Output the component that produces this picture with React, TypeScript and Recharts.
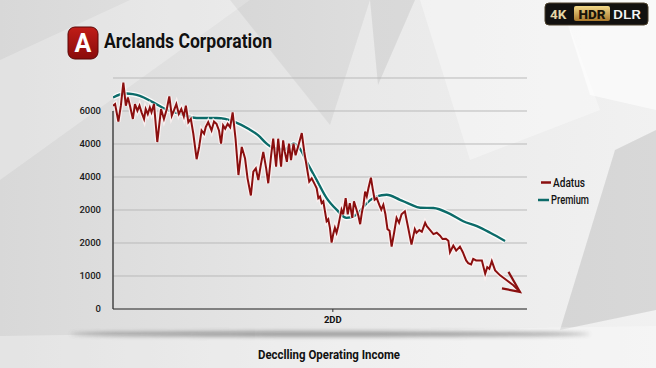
import React from "react";
import {
  LineChart,
  Line,
  XAxis,
  YAxis,
  CartesianGrid,
  ReferenceLine,
} from "recharts";

// [t, value], t runs 0..100 along the x axis
const adatusPoints = [
  [0, 6160], [0.5, 6210], [1.3, 5680], [1.9, 6160], [2.5, 6860], [3.1, 6160],
  [3.6, 6410], [4.1, 6160], [4.8, 5760], [5.3, 6210], [5.9, 6010], [6.4, 6160],
  [6.9, 5960], [7.5, 5760], [7.9, 6060], [8.4, 5910], [8.9, 6110], [9.3, 5960],
  [9.9, 6210], [10.7, 5060], [11.6, 6060], [12.3, 5760], [13.0, 6060], [13.6, 6440],
  [14.2, 5860], [14.7, 6010], [15.3, 6210], [15.9, 5910], [16.5, 6060], [17.1, 5840],
  [17.6, 6160], [18.2, 5660], [18.8, 5760], [19.4, 5310], [20.2, 4540], [20.8, 4910],
  [21.4, 5410], [22.0, 5310], [22.4, 5510], [23.0, 5660], [23.8, 5410], [24.4, 5680],
  [25.0, 5610], [25.6, 5410], [26.1, 5010], [26.6, 5560], [27.1, 5460], [27.7, 5610],
  [28.3, 5510], [28.9, 5960], [29.6, 5160], [30.3, 4060], [31.1, 4910], [31.9, 4560],
  [32.5, 3960], [33.3, 3440], [33.9, 4160], [34.5, 4260], [35.1, 3910], [35.7, 4360],
  [36.3, 4760], [37.0, 4260], [37.5, 3810], [38.2, 4660], [38.7, 5160], [39.4, 4310],
  [39.9, 5160], [40.6, 4310], [41.1, 5110], [41.5, 4760], [42.0, 4460], [42.5, 5010],
  [43.0, 4510], [43.6, 5010], [44.1, 4660], [44.8, 4960], [45.6, 5330], [46.2, 4760],
  [46.8, 4310], [47.4, 3860], [48.0, 3960], [48.8, 3760], [49.2, 3660], [49.6, 3360],
  [50.0, 3410], [50.4, 3210], [50.8, 3260], [51.2, 2960], [51.6, 2660], [52.0, 2720],
  [52.4, 2460], [52.8, 2010], [53.2, 2270], [53.6, 2460], [54.0, 2310], [54.4, 2510],
  [54.8, 2760], [55.2, 3010], [55.6, 2870], [56.2, 3360], [56.7, 2870], [57.2, 3210],
  [57.8, 2760], [58.2, 3260], [58.7, 3060], [59.3, 2810], [59.7, 2570], [60.1, 2910],
  [60.5, 3160], [60.9, 3560], [61.3, 3410], [61.7, 3660], [62.3, 3980], [62.7, 3660],
  [63.2, 3310], [63.7, 3360], [64.3, 3160], [64.8, 3010], [65.3, 3160], [65.8, 2870],
  [66.3, 2420], [66.8, 2370], [67.3, 1890], [67.9, 2310], [68.5, 2760], [69.1, 2610],
  [69.7, 2870], [70.5, 2960], [71.3, 2460], [72.1, 1950], [72.9, 2420], [73.3, 2310],
  [74.0, 2390], [74.6, 2340], [75.4, 2610], [75.8, 2510], [76.6, 2390], [77.4, 2270],
  [78.2, 2310], [79.0, 2220], [79.6, 2120], [80.4, 2130], [81.0, 2070], [81.4, 1720],
  [82.2, 1920], [82.9, 1770], [83.8, 1890], [84.5, 1720], [85.3, 1470], [85.8, 1390],
  [86.5, 1350], [87.0, 1520], [87.7, 1470], [88.5, 1470], [89.1, 1470], [89.9, 1070],
  [90.4, 1270], [90.9, 1220], [91.5, 1450], [92.3, 1170], [93.5, 1020], [95.1, 870],
  [96.7, 720], [98.3, 520],
];

const premiumPoints = [
  [0, 6410], [1.7, 6500], [3.3, 6530], [4.8, 6510], [6.5, 6460], [9.7, 6260],
  [13.0, 6040], [16.2, 5910], [20.2, 5790], [22.2, 5790], [25.0, 5790], [27.1, 5760],
  [29.5, 5660], [32.7, 5460], [35.1, 5260], [37.1, 5010], [38.7, 4880], [41.5, 4840],
  [43.6, 5010], [45.2, 4850], [46.8, 4460], [49.2, 3910], [51.6, 3360], [54.0, 3010],
  [56.4, 2760], [58.9, 2870], [61.3, 3210], [63.7, 3410], [66.1, 3460], [69.3, 3310],
  [71.7, 3180], [74.2, 3070], [77.4, 3060], [81.4, 2880], [84.6, 2660], [87.9, 2510],
  [91.1, 2310], [94.7, 2060],
];

const yTicks = [0, 1000, 2000, 3000, 4000, 5000, 6000];
const yTickLabels = ["0", "1000", "2000", "2000", "4000", "4000", "6000"];
const xTicks = [53.1];
const xTickLabels = ["2DD"];

const seriesNames = ["Adatus", "Premium"];
const RED = "#8a0f0f";
const TEAL = "#0c6b69";

const adatus = adatusPoints.map(([t, v]) => ({ t, v }));
const premium = premiumPoints.map(([t, v]) => ({ t, v }));

const ArrowDot = (props: any) => {
  const { cx, cy, index } = props;
  if (index !== adatus.length - 1) return <g key={`d-${index}`} />;
  return (
    <path
      key={`d-${index}`}
      d={`M${cx - 18},${cy - 3.5} L${cx},${cy} L${cx - 11.5},${cy - 20}`}
      fill="none"
      stroke={RED}
      strokeWidth={2.2}
      strokeLinejoin="miter"
    />
  );
};

const Background = () => (
  <svg width={656} height={368} style={{ position: "absolute", left: 0, top: 0 }}>
    <defs>
      <linearGradient id="bg" x1="0" y1="0" x2="1" y2="0">
        <stop offset="0" stopColor="#d8d8d8" />
        <stop offset="0.55" stopColor="#e9e9e9" />
        <stop offset="1" stopColor="#f1f1f1" />
      </linearGradient>
      <filter id="blur" x="-20%" y="-300%" width="140%" height="700%">
        <feGaussianBlur stdDeviation="2" />
      </filter>
    </defs>
    <rect width={656} height={368} fill="url(#bg)" />
    <polygon points="0,60 130,0 250,0 0,180" fill="#fff" opacity={0.25} />
    <polygon points="230,0 370,0 330,125" fill="#000" opacity={0.05} />
    <polygon points="370,0 415,0 378,85" fill="#000" opacity={0.07} />
    <polygon points="420,0 560,0 600,110 470,160" fill="#fff" opacity={0.35} />
    <polygon points="560,0 656,0 656,110 590,95" fill="#fff" opacity={0.6} />
    <polygon points="615,150 656,130 656,310 560,330" fill="#000" opacity={0.1} />
    <polygon points="0,336 656,326 656,368 0,368" fill="#fff" opacity={0.3} />
    <ellipse cx={330} cy={334} rx={260} ry={2.5} fill="#555" opacity={0.6} filter="url(#blur)" />
  </svg>
);

const Overlay = () => (
  <svg width={656} height={368} style={{ position: "absolute", left: 0, top: 0 }}>
    <defs>
      <linearGradient id="logo" x1="0" y1="0" x2="0" y2="1">
        <stop offset="0" stopColor="#c01d18" />
        <stop offset="1" stopColor="#8a0b0b" />
      </linearGradient>
      <linearGradient id="gold" x1="0" y1="0" x2="0" y2="1">
        <stop offset="0" stopColor="#f3d98a" />
        <stop offset="1" stopColor="#a9782b" />
      </linearGradient>
    </defs>
    {/* title */}
    <rect x={68} y={27} width={30} height={32} rx={7} fill="url(#logo)" stroke="#5a0606" strokeWidth={1} />
    <text x={83} y={52} textAnchor="middle" fill="#fff" fontFamily="Roboto, sans-serif" fontWeight={700} fontSize={25}>
      A
    </text>
    <text
      x={104}
      y={48}
      textLength={168}
      lengthAdjust="spacingAndGlyphs"
      fill="#111"
      fontFamily="Roboto, sans-serif"
      fontWeight={700}
      fontSize={20}
      stroke="#fff"
      strokeWidth={0.4}
      paintOrder="stroke"
    >
      Arclands Corporation
    </text>
    {/* badge */}
    <rect x={545} y={3} width={103} height={22} rx={4} fill="#121110" stroke="#4a3f2a" strokeWidth={1} />
    <text x={550} y={19} fill="#e6d6a6" fontFamily="Roboto, sans-serif" fontWeight={700} fontSize={13.5}>
      4K
    </text>
    <rect x={574} y={6} width={36} height={15} rx={2} fill="url(#gold)" />
    <text x={592} y={18.5} textAnchor="middle" fill="#1a1408" fontFamily="Roboto, sans-serif" fontWeight={900} fontSize={13.5}>
      HDR
    </text>
    <text x={613} y={19} textLength={28} lengthAdjust="spacingAndGlyphs" fill="#f4f4f4" fontFamily="Roboto, sans-serif" fontWeight={500} fontSize={13.5}>
      DLR
    </text>
    {/* legend */}
    <line x1={541} y1={182.5} x2={551} y2={182.5} stroke={RED} strokeWidth={2.5} />
    <text x={553} y={186.5} textLength={32} lengthAdjust="spacingAndGlyphs" fill="#111" fontFamily="Roboto, sans-serif" fontWeight={500} fontSize={12}>
      {seriesNames[0]}
    </text>
    <line x1={538} y1={200} x2={549} y2={200} stroke={TEAL} strokeWidth={2.5} />
    <text x={551} y={204} textLength={38} lengthAdjust="spacingAndGlyphs" fill="#111" fontFamily="Roboto, sans-serif" fontWeight={500} fontSize={12}>
      {seriesNames[1]}
    </text>
    {/* bottom caption */}
    <text
      x={258}
      y={358.5}
      textLength={142}
      lengthAdjust="spacingAndGlyphs"
      fill="#111"
      fontFamily="Roboto, sans-serif"
      fontWeight={700}
      fontSize={13}
    >
      Decclling Operating Income
    </text>
  </svg>
);

export default function App() {
  return (
    <div style={{ position: "absolute", left: 0, top: 0, width: 656, height: 368, overflow: "hidden" }}>
      <Background />
      <div style={{ position: "absolute", left: 0, top: 0 }}>
        <LineChart width={656} height={368} margin={{ top: 78, right: 129, left: 63, bottom: 29 }}>
          <CartesianGrid horizontal vertical={false} stroke="#b9b9b9" strokeWidth={1} />
          <XAxis
            type="number"
            dataKey="t"
            domain={[0, 100]}
            ticks={xTicks}
            tickFormatter={(v) => xTickLabels[xTicks.indexOf(v)] ?? ""}
            height={30}
            stroke="#333"
            tickSize={3}
            tickMargin={4}
            tick={{ fill: "#111", fontSize: 9.5, fontWeight: 700, fontFamily: "Roboto, sans-serif" }}
            allowDataOverflow
          />
          <YAxis
            type="number"
            domain={[0, 7000]}
            ticks={yTicks}
            tickFormatter={(v) => yTickLabels[yTicks.indexOf(v)]}
            width={50}
            axisLine={false}
            tickLine={false}
            tickMargin={6}
            tick={{ fill: "#1a1a1a", fontSize: 9.5, fontWeight: 500, fontFamily: "Roboto, sans-serif" }}
          />
          <ReferenceLine
            segment={[{ x: 0, y: 0 }, { x: 0, y: 6000 }]}
            stroke="#444"
            strokeWidth={1.5}
          />
          <Line
            data={premium}
            dataKey="v"
            name="premium-glow"
            type="monotone"
            stroke="#ffffff"
            strokeOpacity={0.85}
            strokeWidth={5}
            dot={false}
            legendType="none"
            isAnimationActive={false}
          />
          <Line
            data={premium}
            dataKey="v"
            name={seriesNames[1]}
            type="monotone"
            stroke={TEAL}
            strokeWidth={2.4}
            dot={false}
            isAnimationActive={false}
          />
          <Line
            data={adatus}
            dataKey="v"
            name="adatus-glow"
            type="linear"
            stroke="#fff3f3"
            strokeOpacity={0.8}
            strokeWidth={4.5}
            dot={false}
            legendType="none"
            isAnimationActive={false}
          />
          <Line
            data={adatus}
            dataKey="v"
            name={seriesNames[0]}
            type="linear"
            stroke={RED}
            strokeWidth={2}
            strokeLinejoin="miter"
            dot={ArrowDot}
            isAnimationActive={false}
          />
        </LineChart>
      </div>
      <Overlay />
    </div>
  );
}
